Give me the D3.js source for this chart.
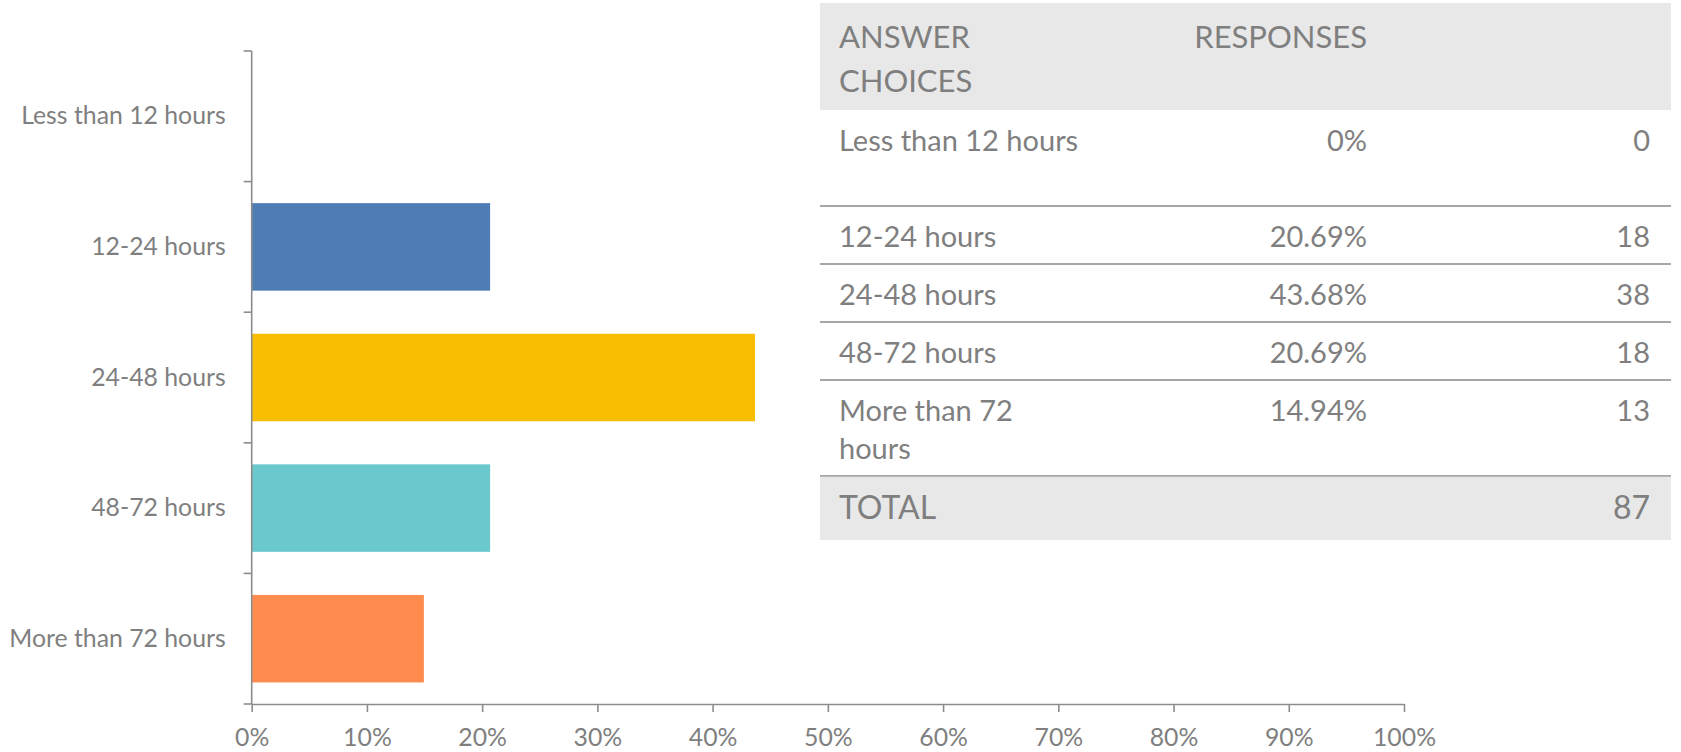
<!DOCTYPE html>
<html>
<head>
<meta charset="utf-8">
<script src="https://cdn.jsdelivr.net/npm/d3@7"></script>
<style>
  html, body { margin: 0; padding: 0; background: #fff; }
  svg { display: block; font-family: Lato, "Open Sans", sans-serif; }
</style>
</head>
<body>
<svg id="chart" width="1681" height="752"></svg>
<script>
// ---- data ----
const categories = ["Less than 12 hours", "12-24 hours", "24-48 hours", "48-72 hours", "More than 72 hours"];
const percents = [0, 0.2069, 0.4368, 0.2069, 0.1494];
const counts = [0, 18, 38, 18, 13];
const percentLabels = ["0%", "20.69%", "43.68%", "20.69%", "14.94%"];
const barColors = ["#507cb6", "#507cb6", "#f9be00", "#6bc8cd", "#ff8b4f"];
const xTicks = [0, 0.1, 0.2, 0.3, 0.4, 0.5, 0.6, 0.7, 0.8, 0.9, 1.0];
const tableLabels = [["Less than 12 hours"], ["12-24 hours"], ["24-48 hours"], ["48-72 hours"], ["More than 72", "hours"]];
const headerLabels = [["ANSWER", "CHOICES"], ["RESPONSES"]];
const totalLabel = "TOTAL";
const totalCount = 87;

const svg = d3.select("#chart");
const textColor = "#7f7f7f";
const axisColor = "#8c8c8c";
const labelSize = 24.8;

// ---- chart ----
const x = d3.scaleLinear().domain([0, 1]).range([251.7, 1404]);
const y = d3.scaleBand().domain(categories).range([51, 704]).paddingInner(0.33).paddingOuter(0.165);

svg.append("g").selectAll("rect")
  .data(categories)
  .join("rect")
  .attr("x", x(0))
  .attr("y", d => y(d))
  .attr("width", (d, i) => x(percents[i]) - x(0))
  .attr("height", y.bandwidth())
  .attr("fill", (d, i) => barColors[i]);

// x axis
const xAxis = svg.append("g")
  .attr("transform", `translate(0,704)`)
  .call(d3.axisBottom(x).tickValues(xTicks).tickFormat(d3.format(".0%")).tickSize(8).tickSizeOuter(0));
xAxis.select(".domain").attr("stroke", axisColor).attr("stroke-width", 1.6);
xAxis.selectAll(".tick line").attr("stroke", axisColor).attr("stroke-width", 1.6);
xAxis.selectAll(".tick text")
  .attr("fill", textColor)
  .attr("font-size", labelSize)
  .attr("font-family", "Lato, 'Open Sans', sans-serif")
  .attr("y", 42).attr("dy", 0);

// y axis (ticks at band boundaries)
const step = y.step();
const bounds = categories.map(c => y(c) - step * y.paddingInner() / 2);
bounds.push(y(categories[categories.length - 1]) + y.bandwidth() + step * y.paddingInner() / 2);
const yAxis = svg.append("g");
yAxis.append("line")
  .attr("x1", x(0)).attr("x2", x(0))
  .attr("y1", bounds[0]).attr("y2", bounds[bounds.length - 1])
  .attr("stroke", axisColor).attr("stroke-width", 1.6);
yAxis.selectAll("line.tick")
  .data(bounds)
  .join("line")
  .attr("class", "tick")
  .attr("x1", x(0) - 8).attr("x2", x(0))
  .attr("y1", d => d).attr("y2", d => d)
  .attr("stroke", axisColor).attr("stroke-width", 1.6);
yAxis.selectAll("text")
  .data(categories)
  .join("text")
  .attr("x", x(0) - 26)
  .attr("y", d => y(d) + y.bandwidth() / 2)
  .attr("dy", "0.33em")
  .attr("text-anchor", "end")
  .attr("fill", textColor)
  .attr("font-size", labelSize)
  .text(d => d);

// ---- table ----
const tLeft = 820, tRight = 1671;
const colText = 839, colPct = 1367, colCnt = 1650;
const headerTop = 3, headerBottom = 110;
const rowHeights = [96, 58, 58, 58, 96];
const tbl = svg.append("g");

tbl.append("rect")
  .attr("x", tLeft).attr("y", headerTop)
  .attr("width", tRight - tLeft).attr("height", headerBottom - headerTop)
  .attr("fill", "#e8e8e8");

headerLabels[0].forEach((t, k) => {
  tbl.append("text").attr("x", colText).attr("y", headerTop + 45 + k * 44)
    .attr("fill", textColor).attr("font-size", 31).text(t);
});
headerLabels[1].forEach((t, k) => {
  tbl.append("text").attr("x", colPct).attr("y", headerTop + 45 + k * 44)
    .attr("text-anchor", "end")
    .attr("fill", textColor).attr("font-size", 31).text(t);
});

let cursorY = headerBottom;
const rowTops = [];
rowHeights.forEach(h => { rowTops.push(cursorY); cursorY += h; });
const totalTop = cursorY, totalBottom = cursorY + 64;

const rows = tbl.selectAll("g.row")
  .data(categories)
  .join("g").attr("class", "row");

rows.each(function(d, i) {
  const g = d3.select(this);
  const base = rowTops[i] + 41;
  tableLabels[i].forEach((t, k) => {
    g.append("text").attr("x", colText).attr("y", base + k * 38)
      .attr("fill", textColor).attr("font-size", 29).text(t);
  });
  g.append("text").attr("x", colPct).attr("y", base)
    .attr("text-anchor", "end").attr("fill", textColor).attr("font-size", 29)
    .text(percentLabels[i]);
  g.append("text").attr("x", colCnt).attr("y", base)
    .attr("text-anchor", "end").attr("fill", textColor).attr("font-size", 29)
    .text(counts[i]);
  g.append("line")
    .attr("x1", tLeft).attr("x2", tRight)
    .attr("y1", rowTops[i] + rowHeights[i]).attr("y2", rowTops[i] + rowHeights[i])
    .attr("stroke", "#8a8a8a").attr("stroke-width", 1.5);
});

tbl.append("rect")
  .attr("x", tLeft).attr("y", totalTop + 0.75)
  .attr("width", tRight - tLeft).attr("height", totalBottom - totalTop - 0.75)
  .attr("fill", "#e8e8e8");
tbl.append("text").attr("x", colText).attr("y", totalTop + 43)
  .attr("fill", textColor).attr("font-size", 32).text(totalLabel);
tbl.append("text").attr("x", colCnt).attr("y", totalTop + 43)
  .attr("text-anchor", "end").attr("fill", textColor).attr("font-size", 32).text(totalCount);
</script>
</body>
</html>
